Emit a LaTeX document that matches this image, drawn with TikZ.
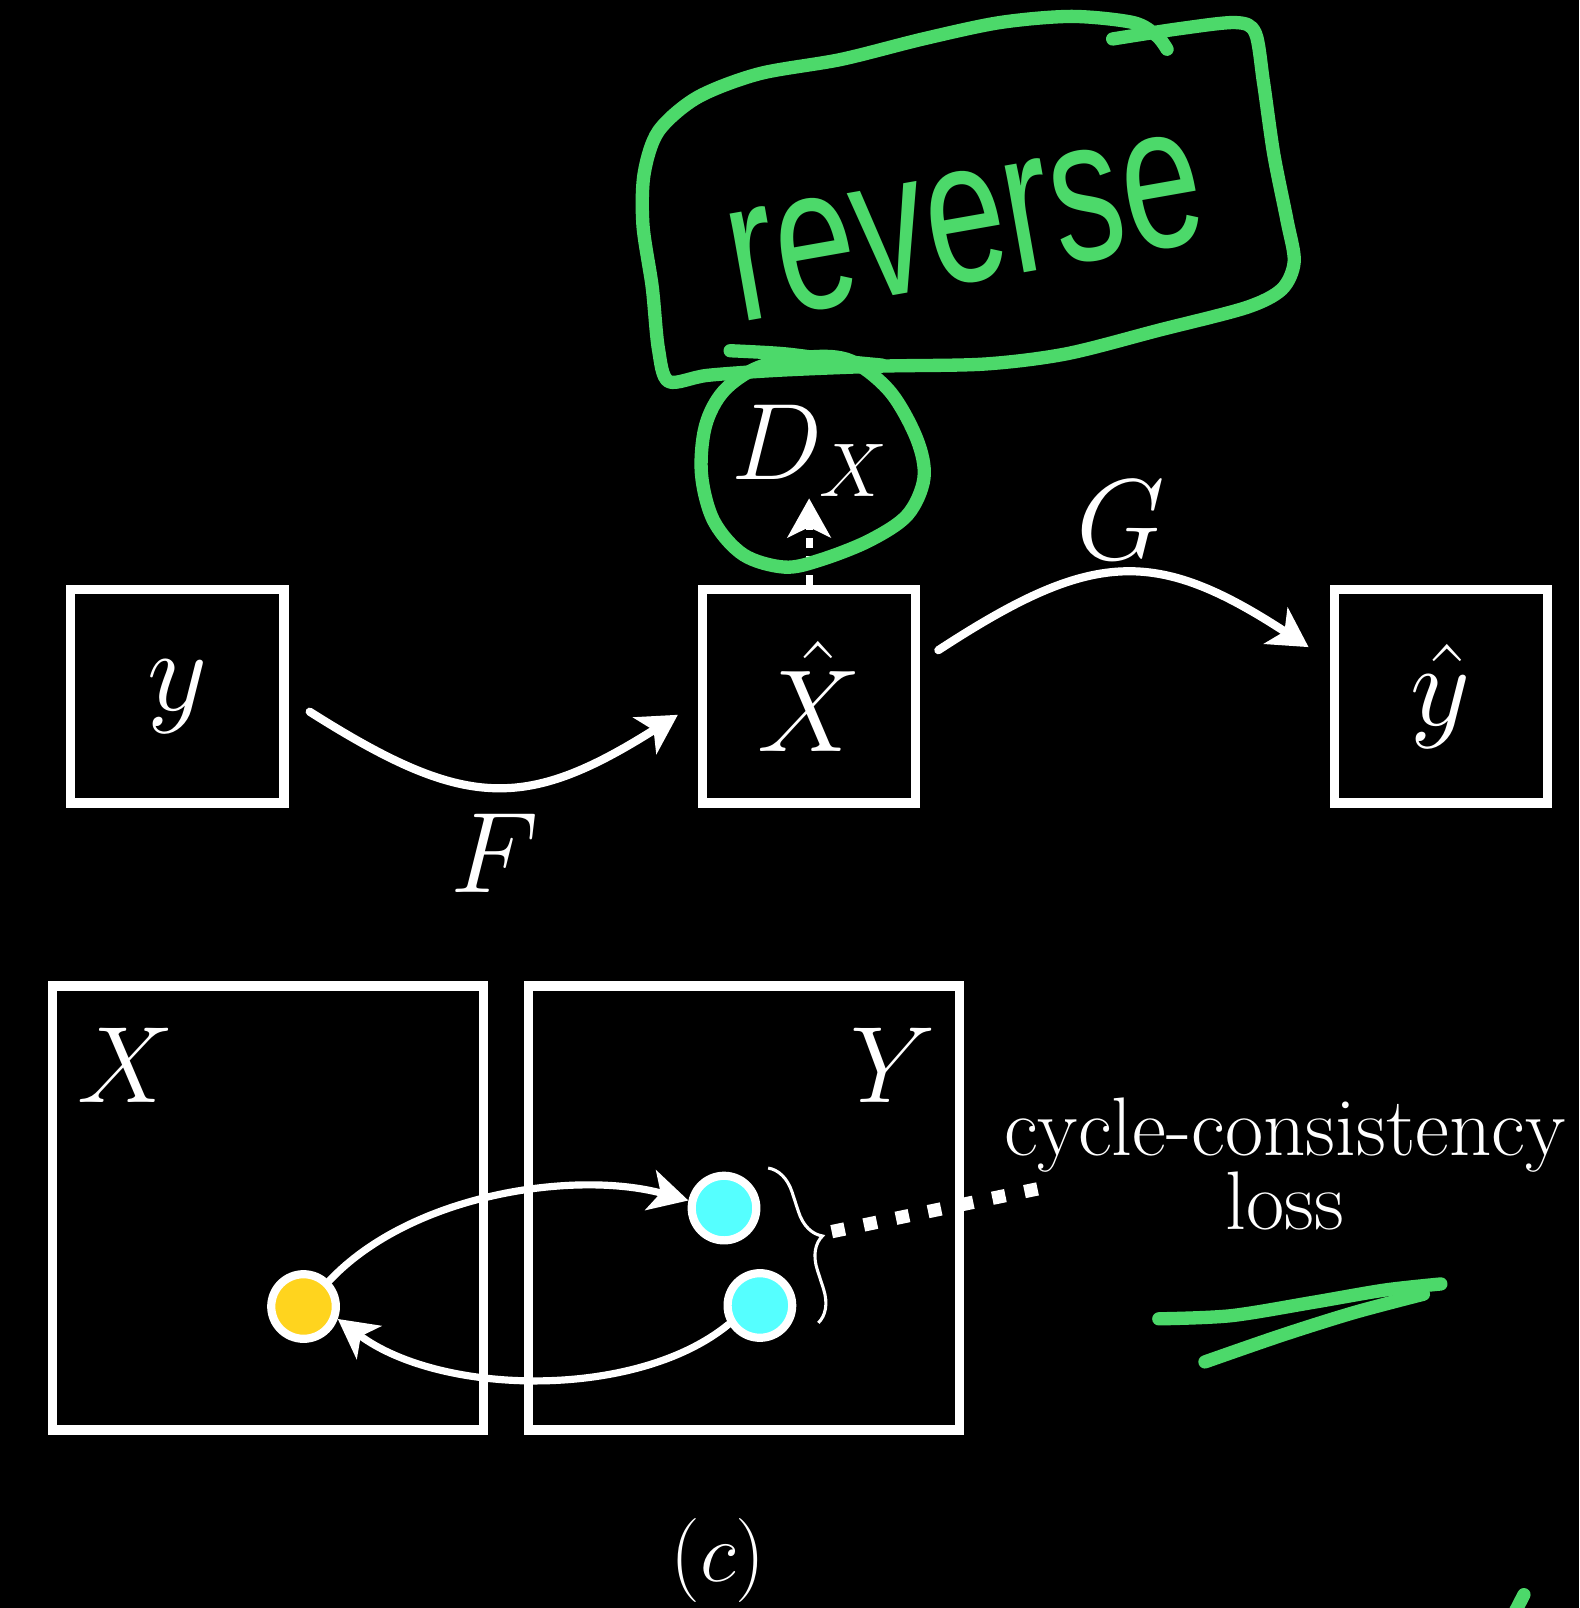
\RequirePackage{fix-cm}
\documentclass[tikz,border=0pt]{standalone}
\usepackage{fontspec}
\newfontfamily\handfont[FakeStretch=0.7]{Liberation Sans}
\usetikzlibrary{arrows.meta,decorations.pathreplacing}
\definecolor{ink}{RGB}{76,217,106}
\definecolor{dotY}{RGB}{255,212,30}
\definecolor{dotC}{RGB}{85,255,255}
\begin{document}
\begin{tikzpicture}[x=0.5pt,y=-0.5pt,
  box/.style={draw=white, line width=4.5pt, minimum width=104pt, minimum height=104pt,
    inner sep=0pt, text=white, font=\fontsize{57pt}{68pt}\selectfont},
  bigbox/.style={draw=white, line width=4.5pt, minimum width=210pt, minimum height=216.5pt, inner sep=0pt},
  lab/.style={text=white, inner sep=0pt, font=\fontsize{56pt}{67pt}\selectfont},
  labs/.style={text=white, inner sep=0pt, font=\fontsize{53pt}{64pt}\selectfont},
  dot/.style={circle, draw=white, line width=4pt, minimum size=31.5pt, inner sep=0pt},
  arr/.style={white, line width=4pt, line cap=round, -{Stealth[length=19pt,width=21pt,inset=5pt]}},
  arrb/.style={white, line width=3.5pt, line cap=round, -{Stealth[length=19pt,width=20pt,inset=5pt]}},
  ink/.style={draw=ink, line width=6.5pt, line cap=round, line join=round}
]
\fill[black] (0,0) rectangle (1540,1568);
\useasboundingbox (0,0) rectangle (1540,1568);

% top row
\node[box] (ybox) at (173,679) {$y$};
\node[box] (xhat) at (789,679) {$\hat{X}$};
\node[box] (yhat) at (1405,679) {$\hat{y}$};

\coordinate (fs) at (302,694);
\coordinate (fe) at (661,697);
\draw[arr] (fs) .. controls +(150,95) and +(-150,95) .. (fe);
\node[lab] (F) at (482,832) {$F$};

\coordinate (gs) at (915,634);
\coordinate (ge) at (1276,631);
\draw[arr] (gs) .. controls +(150,-98) and +(-150,-98) .. (ge);
\node[lab] (G) at (1093,507) {$G$};

\coordinate (dtip) at (789,486);
\draw[arr, line width=3.5pt, line cap=butt, dash pattern=on 5pt off 4pt] (xhat.north) -- (dtip);
\node[labs, anchor=base] (DX) at (790,468) {$D_X$};

% bottom
\node[bigbox] (Xbox) at (261.5,1178) {};
\node[bigbox] (Ybox) at (725.5,1178) {};
\node[labs] (Xl) at (123,1039) {$X$};
\node[labs] (Yl) at (871,1039) {$Y$};

\node[dot, fill=dotY] (yel) at (296,1274) {};
\node[dot, fill=dotC] (cy1) at (706,1178) {};
\node[dot, fill=dotC] (cy2) at (741,1273) {};

\draw[arrb] (yel.45) .. controls +(80,-85) and +(-110,-30) .. (cy1.168);
\draw[arrb] (cy2.211) .. controls +(-90,74) and +(100,75) .. (yel.340);

\coordinate (br1) at (749,1139);
\coordinate (br2) at (798,1290);
\draw[white, line width=1.5pt, decorate, decoration={brace, amplitude=15pt}] (br1) -- (br2);

\coordinate (bt) at (811,1201);
\coordinate (dl) at (1018,1158);
\draw[white, line width=6.5pt, dash pattern=on 6.5pt off 9.5pt] (bt) -- (dl);

\node[text=white, align=center, inner sep=0pt, font=\fontsize{40.5pt}{36.5pt}\selectfont] (loss) at (1253,1135) {cycle-consistency\\loss};

\node[text=white, inner sep=0pt, font=\fontsize{41pt}{50pt}\selectfont] (cap) at (700,1522) {$(c)$};

% green annotations
\node[text=ink, inner sep=0pt, rotate=10, font=\handfont\fontsize{100pt}{100pt}\selectfont] (rev) at (942,222) {reverse};

\draw[ink] plot[smooth, tension=0.5] coordinates {(1085,38) (1150,28) (1205,22) (1224,32) (1232,80) (1242,150) (1255,215) (1262,255) (1250,282) (1215,300) (1130,322) (1040,345) (960,355) (860,357) (760,361) (690,366) (652,372) (642,340) (636,280) (627,220) (628,170) (642,128) (680,95) (740,72) (820,58) (900,38) (975,22) (1045,16) (1105,22) (1128,35) (1138,48)};
\draw[ink] plot[smooth, tension=0.5] coordinates {(712,342) (765,345) (820,352) (860,356)};
\draw[ink] plot[smooth cycle, tension=0.55] coordinates {(790,348) (830,352) (868,382) (894,428) (901,466) (885,502) (848,527) (800,546) (765,553) (725,541) (696,508) (684,462) (688,415) (706,381) (740,358)};

\draw[ink] plot[smooth, tension=0.5] coordinates {(1130,1286) (1200,1283) (1280,1270) (1350,1258) (1405,1252)};
\draw[ink] plot[smooth, tension=0.5] coordinates {(1388,1262) (1320,1280) (1250,1302) (1175,1328)};
\draw[ink] (1486,1555) -- (1468,1590);
\end{tikzpicture}
\end{document}
